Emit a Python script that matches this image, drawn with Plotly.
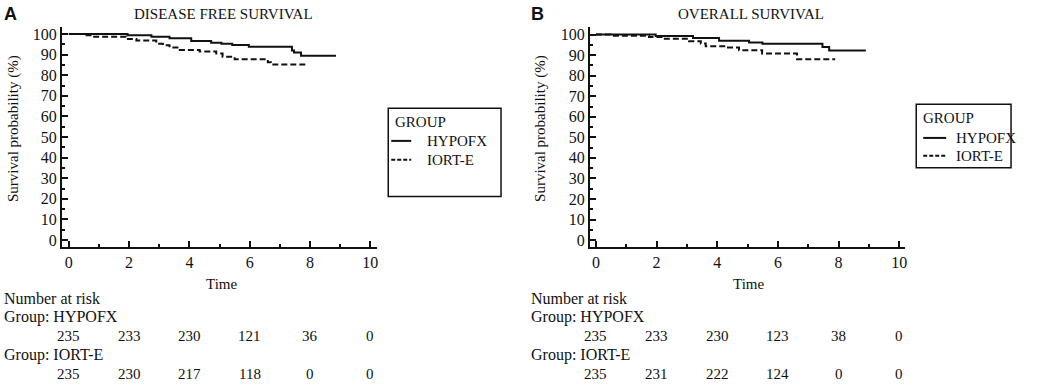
import plotly.graph_objects as go

W, H = 1037, 385

# ---------------- data ----------------
# Panel A: disease free survival (Kaplan-Meier steps, time in years, survival %)
dfs_hypofx_t = [0, 1.95, 2.74, 3.34, 4.06, 4.72, 5.06, 5.42, 5.97, 7.40, 7.47, 7.70, 8.86]
dfs_hypofx_s = [100, 99.4, 98.7, 97.9, 96.6, 95.8, 95.3, 94.7, 93.8, 92.0, 91.0, 89.4, 89.4]
dfs_iorte_t = [0, 0.47, 0.80, 1.90, 2.24, 2.90, 3.12, 3.34, 3.68, 4.34, 4.89, 5.10, 5.50, 6.60, 6.70, 7.87]
dfs_iorte_s = [100, 99.4, 98.7, 97.6, 96.8, 95.3, 94.6, 93.5, 92.3, 91.5, 90.5, 89.0, 87.8, 86.3, 85.2, 85.2]

# Panel B: overall survival
os_hypofx_t = [0, 1.97, 3.20, 4.06, 5.05, 5.49, 7.47, 7.69, 8.90]
os_hypofx_s = [100, 99.3, 98.4, 97.0, 96.2, 95.5, 94.0, 92.3, 92.3]
os_iorte_t = [0, 0.48, 1.75, 2.18, 3.07, 3.46, 3.62, 4.28, 4.72, 5.48, 6.63, 7.89]
os_iorte_s = [100, 99.5, 98.8, 98.0, 96.8, 95.7, 94.3, 93.7, 92.4, 90.8, 88.0, 88.0]

risk_times = [0, 2, 4, 6, 8, 10]
dfs_risk_hypofx = [235, 233, 230, 121, 36, 0]
dfs_risk_iorte = [235, 230, 217, 118, 0, 0]
os_risk_hypofx = [235, 233, 230, 123, 38, 0]
os_risk_iorte = [235, 231, 222, 124, 0, 0]

groups = ["HYPOFX", "IORT-E"]
panel_titles = ["DISEASE FREE SURVIVAL", "OVERALL SURVIVAL"]
panel_letters = ["A", "B"]

# ---------------- figure ----------------
SERIF = "Liberation Serif, Times New Roman, serif"
INK = "#111111"
FS = 15

def px(x):
    return x / W

def py(y):
    return 1 - y / H

fig = go.Figure()

curves = [
    (dfs_hypofx_t, dfs_hypofx_s, "x", "y", "solid"),
    (dfs_iorte_t, dfs_iorte_s, "x", "y", "6px,3px"),
    (os_hypofx_t, os_hypofx_s, "x2", "y2", "solid"),
    (os_iorte_t, os_iorte_s, "x2", "y2", "6px,3px"),
]
for t, s, xa, ya, dash in curves:
    fig.add_trace(go.Scatter(x=t, y=s, mode="lines", line=dict(shape="hv", color=INK, width=2, dash=dash),
                             xaxis=xa, yaxis=ya, showlegend=False, hoverinfo="skip"))

common_x = dict(tickvals=[0, 2, 4, 6, 8, 10], ticks="inside", ticklen=6, tickwidth=1.5, tickcolor=INK,
                minor=dict(dtick=1, ticks="inside", ticklen=3, tickwidth=1.5, tickcolor=INK),
                showline=True, linewidth=2, linecolor=INK, showgrid=False, zeroline=False,
                tickfont=dict(family=SERIF, size=16, color=INK))
common_y = dict(tickvals=list(range(0, 101, 10)), ticks="inside", ticklen=6, tickwidth=1.5, tickcolor=INK,
                minor=dict(dtick=5, ticks="inside", ticklen=3, tickwidth=1.5, tickcolor=INK),
                showline=True, linewidth=2, linecolor=INK, showgrid=False, zeroline=False,
                tickfont=dict(family=SERIF, size=16, color=INK))

fig.update_layout(
    width=W, height=H, margin=dict(l=0, r=0, t=0, b=0),
    paper_bgcolor="white", plot_bgcolor="white", showlegend=False,
    xaxis=dict(domain=[px(62), px(378)], range=[-0.23, 10.23], anchor="y", **common_x),
    yaxis=dict(domain=[py(248), py(26)], range=[-3.4, 103.5], anchor="x", **common_y),
    xaxis2=dict(domain=[px(591), px(907)], range=[-0.2, 10.2], anchor="y2", **common_x),
    yaxis2=dict(domain=[py(248), py(26)], range=[-3.4, 103.8], anchor="x2", **common_y),
)

ann = []
shapes = []

def text(x, y, s, size=FS, xanchor="left", family=SERIF, angle=0, bold=False, xref="paper"):
    ann.append(dict(x=x if xref != "paper" else px(x), y=py(y), xref=xref, yref="paper",
                    text=f"<b>{s}</b>" if bold else s, showarrow=False, xanchor=xanchor, yanchor="middle",
                    textangle=angle, font=dict(family=family, size=size, color=INK)))

panels = [
    dict(off=0, xref="x", risk=(dfs_risk_hypofx, dfs_risk_iorte),
         legend_box=(389, 108, 502, 197), leg_line=(392, 412), leg_text=426, leg_y=(122, 141, 160)),
    dict(off=528, xref="x2", risk=(os_risk_hypofx, os_risk_iorte),
         legend_box=(918, 104, 1013, 168), leg_line=(925, 948), leg_text=956, leg_y=(118, 138, 156)),
]

title_cx = [224, 752]
for i, p in enumerate(panels):
    off = p["off"]
    text(2 + off, 13, panel_letters[i], size=18, family="Liberation Sans, Arial, sans-serif", bold=True)
    text(title_cx[i], 13, panel_titles[i], xanchor="center")
    text(13 + off, 128, "Survival probability (%)", xanchor="center", angle=-90)
    text(title_cx[i] - 2, 285, "Time", xanchor="center")
    text(2 + off, 300, "Number at risk", size=16)
    text(2 + off, 318, "Group: " + groups[0], size=16)
    text(2 + off, 357, "Group: " + groups[1], size=16)
    for t, n in zip(risk_times, p["risk"][0]):
        text(t, 338, str(n), xanchor="center", xref=p["xref"])
    for t, n in zip(risk_times, p["risk"][1]):
        text(t, 376, str(n), xanchor="center", xref=p["xref"])
    # legend box
    x0, y0, x1, y1 = p["legend_box"]
    shapes.append(dict(type="rect", xref="paper", yref="paper", x0=px(x0), x1=px(x1), y0=py(y1), y1=py(y0),
                       line=dict(color=INK, width=1.5)))
    ly = p["leg_y"]
    text(x0 + 5, ly[0], "GROUP")
    for j, dash in enumerate(["solid", "4px,2px"]):
        shapes.append(dict(type="line", xref="paper", yref="paper", x0=px(p["leg_line"][0]), x1=px(p["leg_line"][1]),
                           y0=py(ly[j + 1]), y1=py(ly[j + 1]), line=dict(color=INK, width=2, dash=dash)))
        text(p["leg_text"], ly[j + 1], groups[j])

fig.update_layout(annotations=ann, shapes=shapes)
fig.write_html("out.html", config={"displayModeBar": False},
               post_script="document.body.style.margin='0px';document.body.style.overflow='hidden';")
